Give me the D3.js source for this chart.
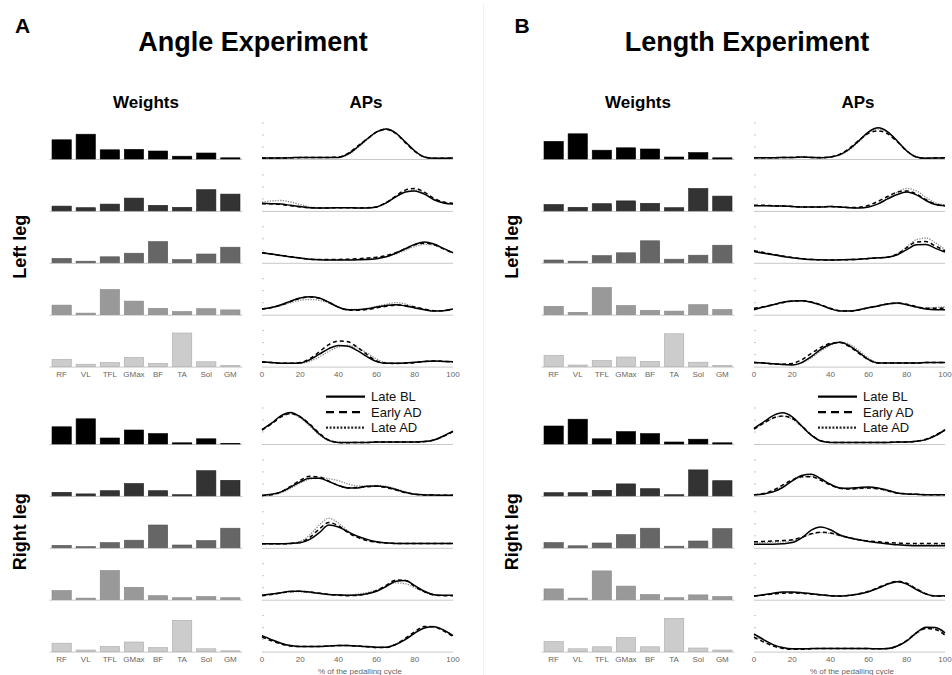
<!DOCTYPE html>
<html>
<head>
<meta charset="utf-8">
<script src="https://cdn.jsdelivr.net/npm/d3@7"></script>
<style>
  body { margin:0; background:#fff; }
  svg { font-family: Arial, "Liberation Sans", sans-serif; }
  .lbl { font-size: 8px; fill: #666; }
  .head { font-weight: bold; fill: #000; }
</style>
</head>
<body>
<script>
// ---- data ----
var muscles = ["RF", "VL", "TFL", "GMax", "BF", "TA", "Sol", "GM"];
var cycle = [0, 5, 10, 15, 20, 25, 30, 35, 40, 45, 50, 55, 60, 65, 70, 75, 80, 85, 90, 95, 100];
var cycleTicks = [0, 20, 40, 60, 80, 100];
var seriesNames = ["Late BL", "Early AD", "Late AD"];
var experiments = ["Angle Experiment", "Length Experiment"];
var panelLetters = ["A", "B"];
var legNames = ["Left leg", "Right leg"];

// weights, 5 synergies x 8 muscles
var wAngleLeft = [
  [0.48, 0.62, 0.23, 0.24, 0.20, 0.07, 0.15, 0.03],
  [0.12, 0.08, 0.17, 0.32, 0.14, 0.09, 0.53, 0.42],
  [0.11, 0.04, 0.15, 0.24, 0.53, 0.08, 0.22, 0.39],
  [0.24, 0.04, 0.63, 0.34, 0.16, 0.08, 0.15, 0.12],
  [0.18, 0.06, 0.10, 0.23, 0.08, 0.84, 0.12, 0.03]
];
var wAngleRight = [
  [0.43, 0.63, 0.15, 0.35, 0.26, 0.03, 0.13, 0.01],
  [0.09, 0.05, 0.13, 0.31, 0.13, 0.03, 0.63, 0.39],
  [0.06, 0.03, 0.13, 0.19, 0.57, 0.07, 0.18, 0.49],
  [0.23, 0.04, 0.73, 0.31, 0.10, 0.05, 0.08, 0.05],
  [0.21, 0.04, 0.13, 0.24, 0.10, 0.78, 0.07, 0.02]
];
var wLengthLeft = [
  [0.44, 0.63, 0.22, 0.28, 0.25, 0.05, 0.16, 0.03],
  [0.16, 0.09, 0.18, 0.25, 0.19, 0.08, 0.56, 0.37],
  [0.07, 0.04, 0.18, 0.25, 0.55, 0.09, 0.19, 0.44],
  [0.21, 0.06, 0.68, 0.23, 0.11, 0.09, 0.25, 0.13],
  [0.28, 0.04, 0.15, 0.24, 0.13, 0.82, 0.11, 0.03]
];
var wLengthRight = [
  [0.45, 0.62, 0.13, 0.31, 0.26, 0.05, 0.12, 0.03],
  [0.08, 0.08, 0.14, 0.30, 0.18, 0.03, 0.65, 0.38],
  [0.13, 0.05, 0.12, 0.33, 0.49, 0.04, 0.17, 0.48],
  [0.27, 0.04, 0.72, 0.34, 0.13, 0.05, 0.12, 0.08],
  [0.25, 0.07, 0.12, 0.35, 0.12, 0.83, 0.09, 0.04]
];

// activation patterns, 5 synergies x 21 points of the cycle
var apAngleLeftBL = [
  [0.025,0.025,0.025,0.03,0.04,0.04,0.04,0.04,0.04,0.125,0.3,0.5,0.68,0.75,0.65,0.43,0.2,0.05,0.02,0.02,0.025],
  [0.19,0.18,0.17,0.14,0.11,0.08,0.075,0.075,0.08,0.08,0.075,0.075,0.1,0.2,0.35,0.47,0.5,0.42,0.28,0.2,0.17],
  [0.25,0.22,0.18,0.15,0.12,0.09,0.075,0.07,0.07,0.07,0.075,0.08,0.1,0.15,0.24,0.35,0.46,0.52,0.47,0.36,0.25],
  [0.14,0.18,0.25,0.34,0.42,0.45,0.42,0.31,0.19,0.125,0.125,0.15,0.19,0.23,0.25,0.22,0.17,0.125,0.09,0.1,0.14],
  [0.12,0.1,0.085,0.085,0.09,0.17,0.31,0.45,0.53,0.51,0.4,0.25,0.125,0.085,0.085,0.09,0.11,0.13,0.14,0.13,0.12]
];
var apAngleLeftEA = [
  [0.02,0.02,0.025,0.03,0.035,0.04,0.04,0.04,0.05,0.14,0.32,0.5,0.67,0.74,0.64,0.41,0.19,0.05,0.02,0.02,0.02],
  [0.18,0.18,0.16,0.13,0.1,0.08,0.075,0.075,0.08,0.08,0.075,0.08,0.1,0.21,0.37,0.52,0.56,0.47,0.31,0.22,0.19],
  [0.25,0.22,0.18,0.15,0.12,0.09,0.08,0.08,0.085,0.09,0.1,0.12,0.14,0.18,0.25,0.35,0.45,0.49,0.45,0.35,0.24],
  [0.14,0.18,0.24,0.33,0.41,0.44,0.41,0.31,0.19,0.12,0.11,0.13,0.17,0.21,0.24,0.23,0.19,0.14,0.1,0.1,0.13],
  [0.11,0.1,0.085,0.085,0.1,0.2,0.37,0.55,0.64,0.62,0.48,0.3,0.14,0.085,0.08,0.085,0.1,0.13,0.14,0.13,0.11]
];
var apAngleLeftLA = [
  [0.03,0.03,0.03,0.035,0.04,0.04,0.04,0.04,0.04,0.11,0.28,0.48,0.67,0.76,0.66,0.43,0.21,0.06,0.02,0.02,0.03],
  [0.22,0.25,0.26,0.22,0.16,0.1,0.08,0.075,0.08,0.08,0.075,0.075,0.1,0.19,0.34,0.47,0.52,0.44,0.3,0.22,0.18],
  [0.24,0.21,0.18,0.15,0.12,0.09,0.08,0.075,0.075,0.08,0.085,0.1,0.12,0.15,0.22,0.31,0.41,0.46,0.44,0.35,0.25],
  [0.15,0.18,0.23,0.3,0.36,0.38,0.36,0.29,0.19,0.13,0.13,0.16,0.21,0.26,0.3,0.27,0.2,0.14,0.1,0.1,0.14],
  [0.12,0.1,0.085,0.085,0.085,0.13,0.24,0.38,0.49,0.53,0.47,0.34,0.19,0.1,0.085,0.09,0.11,0.13,0.14,0.13,0.12]
];
var apAngleRightBL = [
  [0.36,0.52,0.71,0.79,0.68,0.48,0.25,0.09,0.04,0.04,0.04,0.04,0.05,0.05,0.05,0.05,0.05,0.06,0.1,0.2,0.32],
  [0.01,0.04,0.1,0.22,0.35,0.44,0.44,0.36,0.26,0.2,0.2,0.24,0.25,0.22,0.16,0.09,0.04,0.025,0.02,0.015,0.015],
  [0.1,0.1,0.1,0.11,0.125,0.21,0.38,0.57,0.52,0.4,0.29,0.21,0.15,0.125,0.11,0.11,0.11,0.11,0.11,0.11,0.11],
  [0.11,0.14,0.175,0.21,0.21,0.19,0.16,0.13,0.12,0.11,0.12,0.15,0.21,0.33,0.46,0.48,0.35,0.21,0.125,0.11,0.11],
  [0.4,0.3,0.21,0.15,0.125,0.125,0.13,0.14,0.15,0.15,0.14,0.125,0.11,0.11,0.175,0.3,0.46,0.59,0.62,0.54,0.4]
];
var apAngleRightEA = [
  [0.35,0.5,0.68,0.76,0.68,0.5,0.27,0.1,0.04,0.03,0.04,0.04,0.05,0.05,0.05,0.05,0.05,0.06,0.1,0.19,0.31],
  [0.01,0.03,0.1,0.24,0.39,0.49,0.47,0.37,0.26,0.2,0.21,0.23,0.24,0.21,0.15,0.08,0.04,0.025,0.02,0.015,0.015],
  [0.1,0.1,0.1,0.11,0.14,0.26,0.47,0.63,0.55,0.38,0.26,0.18,0.14,0.12,0.11,0.11,0.11,0.11,0.11,0.11,0.11],
  [0.1,0.13,0.17,0.2,0.21,0.19,0.16,0.13,0.11,0.1,0.11,0.15,0.23,0.36,0.49,0.48,0.33,0.2,0.12,0.1,0.1],
  [0.36,0.27,0.19,0.14,0.125,0.125,0.13,0.14,0.15,0.15,0.14,0.12,0.1,0.1,0.18,0.33,0.5,0.63,0.62,0.52,0.38]
];
var apAngleRightLA = [
  [0.37,0.52,0.69,0.76,0.65,0.45,0.23,0.08,0.04,0.04,0.04,0.04,0.05,0.05,0.05,0.05,0.05,0.06,0.1,0.2,0.32],
  [0.01,0.03,0.08,0.19,0.32,0.42,0.45,0.43,0.38,0.3,0.25,0.25,0.26,0.24,0.18,0.1,0.05,0.03,0.02,0.015,0.015],
  [0.1,0.1,0.1,0.115,0.16,0.32,0.57,0.74,0.62,0.42,0.27,0.18,0.14,0.12,0.11,0.11,0.11,0.11,0.11,0.11,0.11],
  [0.11,0.14,0.17,0.2,0.2,0.18,0.15,0.13,0.12,0.12,0.14,0.18,0.24,0.33,0.42,0.4,0.3,0.19,0.12,0.11,0.11],
  [0.38,0.29,0.2,0.15,0.125,0.125,0.13,0.14,0.15,0.15,0.14,0.12,0.1,0.11,0.19,0.32,0.47,0.6,0.63,0.54,0.4]
];
var apLengthLeftBL = [
  [0.03,0.03,0.03,0.04,0.04,0.05,0.04,0.03,0.05,0.11,0.25,0.46,0.68,0.78,0.68,0.45,0.2,0.05,0.02,0.025,0.03],
  [0.13,0.13,0.125,0.12,0.11,0.1,0.1,0.1,0.11,0.1,0.08,0.075,0.1,0.175,0.3,0.41,0.47,0.4,0.26,0.16,0.13],
  [0.28,0.24,0.2,0.16,0.125,0.1,0.08,0.075,0.07,0.075,0.08,0.09,0.11,0.125,0.14,0.2,0.33,0.45,0.46,0.36,0.27],
  [0.125,0.19,0.25,0.31,0.34,0.35,0.31,0.24,0.15,0.09,0.09,0.125,0.175,0.22,0.27,0.29,0.25,0.19,0.14,0.125,0.125],
  [0.1,0.09,0.07,0.05,0.04,0.1,0.25,0.43,0.56,0.61,0.52,0.35,0.175,0.09,0.09,0.09,0.09,0.09,0.1,0.1,0.1]
];
var apLengthLeftEA = [
  [0.03,0.03,0.03,0.035,0.04,0.045,0.04,0.035,0.05,0.12,0.27,0.47,0.64,0.7,0.63,0.43,0.2,0.05,0.02,0.025,0.03],
  [0.14,0.14,0.13,0.12,0.11,0.1,0.1,0.1,0.11,0.1,0.085,0.09,0.14,0.24,0.36,0.47,0.5,0.42,0.28,0.17,0.13],
  [0.3,0.26,0.21,0.17,0.13,0.1,0.085,0.075,0.07,0.075,0.08,0.09,0.11,0.125,0.14,0.22,0.38,0.52,0.53,0.42,0.3],
  [0.16,0.2,0.25,0.3,0.34,0.35,0.32,0.25,0.16,0.1,0.09,0.12,0.17,0.22,0.27,0.29,0.26,0.2,0.16,0.16,0.17],
  [0.1,0.09,0.07,0.06,0.08,0.17,0.33,0.48,0.58,0.6,0.5,0.33,0.17,0.09,0.09,0.09,0.09,0.09,0.1,0.1,0.1]
];
var apLengthLeftLA = [
  [0.03,0.03,0.03,0.04,0.04,0.05,0.04,0.03,0.05,0.1,0.23,0.44,0.66,0.75,0.67,0.45,0.21,0.06,0.02,0.025,0.03],
  [0.13,0.13,0.125,0.12,0.11,0.1,0.1,0.1,0.11,0.1,0.08,0.075,0.1,0.18,0.32,0.47,0.56,0.5,0.34,0.2,0.15],
  [0.31,0.26,0.21,0.17,0.13,0.1,0.085,0.075,0.07,0.075,0.08,0.09,0.11,0.125,0.14,0.22,0.4,0.58,0.62,0.5,0.33],
  [0.15,0.19,0.24,0.3,0.33,0.34,0.31,0.24,0.15,0.1,0.1,0.13,0.18,0.23,0.27,0.28,0.25,0.2,0.17,0.18,0.2],
  [0.1,0.09,0.07,0.05,0.04,0.09,0.22,0.39,0.53,0.61,0.56,0.4,0.21,0.1,0.09,0.09,0.09,0.09,0.1,0.1,0.1]
];
var apLengthRightBL = [
  [0.39,0.55,0.71,0.78,0.68,0.45,0.22,0.075,0.04,0.04,0.04,0.04,0.04,0.04,0.04,0.05,0.05,0.07,0.11,0.21,0.35],
  [0.03,0.05,0.1,0.21,0.375,0.51,0.54,0.43,0.29,0.2,0.19,0.21,0.225,0.2,0.14,0.075,0.05,0.04,0.03,0.03,0.03],
  [0.09,0.09,0.09,0.1,0.13,0.25,0.44,0.52,0.45,0.32,0.25,0.2,0.16,0.125,0.1,0.075,0.06,0.05,0.05,0.05,0.05],
  [0.09,0.125,0.16,0.19,0.19,0.175,0.15,0.125,0.1,0.09,0.11,0.14,0.2,0.29,0.39,0.45,0.39,0.25,0.14,0.09,0.1],
  [0.44,0.3,0.175,0.1,0.07,0.07,0.075,0.08,0.08,0.08,0.08,0.075,0.075,0.07,0.075,0.14,0.27,0.47,0.61,0.6,0.47]
];
var apLengthRightEA = [
  [0.37,0.52,0.65,0.7,0.64,0.45,0.23,0.08,0.04,0.04,0.04,0.04,0.04,0.04,0.04,0.05,0.05,0.07,0.12,0.22,0.36],
  [0.03,0.06,0.14,0.27,0.4,0.48,0.48,0.39,0.27,0.19,0.17,0.19,0.2,0.18,0.13,0.07,0.05,0.04,0.03,0.03,0.03],
  [0.15,0.16,0.17,0.18,0.2,0.27,0.35,0.39,0.37,0.31,0.25,0.2,0.17,0.15,0.13,0.12,0.11,0.11,0.11,0.11,0.11],
  [0.09,0.12,0.14,0.16,0.17,0.16,0.14,0.12,0.1,0.09,0.11,0.15,0.21,0.3,0.4,0.46,0.41,0.27,0.15,0.09,0.1],
  [0.36,0.24,0.14,0.08,0.06,0.06,0.07,0.08,0.08,0.08,0.08,0.075,0.075,0.07,0.075,0.14,0.28,0.47,0.58,0.55,0.41]
];
var apLengthRightLA = [
  [0.38,0.52,0.64,0.69,0.62,0.43,0.21,0.075,0.04,0.04,0.04,0.04,0.04,0.04,0.04,0.05,0.05,0.07,0.1,0.2,0.34],
  [0.03,0.05,0.12,0.24,0.38,0.47,0.49,0.4,0.28,0.19,0.17,0.18,0.19,0.17,0.12,0.07,0.05,0.04,0.03,0.03,0.03],
  [0.12,0.13,0.14,0.15,0.18,0.25,0.34,0.38,0.36,0.3,0.24,0.2,0.16,0.13,0.1,0.09,0.08,0.08,0.08,0.08,0.08],
  [0.09,0.12,0.15,0.17,0.17,0.16,0.14,0.12,0.1,0.09,0.11,0.14,0.2,0.28,0.38,0.44,0.4,0.28,0.16,0.1,0.1],
  [0.4,0.27,0.16,0.09,0.065,0.065,0.075,0.08,0.08,0.08,0.08,0.075,0.075,0.07,0.075,0.13,0.26,0.44,0.58,0.57,0.44]
];

// ---- layout ----
var W = 952, H = 675;
var panelDx = [0, 492];
var letterX = [15, 514.5];
var titleX = [253, 747];
var legBase = [159, 444];
var rowStep = 51.9;
var rowColors = ["#000000", "#333333", "#666666", "#999999", "#cccccc"];
var rowStroke = ["#000000", "#222222", "#555555", "#888888", "#aaaaaa"];
var lineStyles = [
  {stroke: "#000", width: 1.5, dash: null},
  {stroke: "#000", width: 1.5, dash: "4,3"},
  {stroke: "#8a8a8a", width: 1.3, dash: "1.3,1.3"}
];

var weights = [[wAngleLeft, wAngleRight], [wLengthLeft, wLengthRight]];
var aps = [
  [[apAngleLeftBL, apAngleLeftEA, apAngleLeftLA], [apAngleRightBL, apAngleRightEA, apAngleRightLA]],
  [[apLengthLeftBL, apLengthLeftEA, apLengthLeftLA], [apLengthRightBL, apLengthRightEA, apLengthRightLA]]
];

var svg = d3.select("body").append("svg").attr("width", W).attr("height", H);

// faint separator between the two panels
svg.append("line").attr("x1", 483.5).attr("x2", 483.5).attr("y1", 4).attr("y2", H)
  .attr("stroke", "#f0f0f0").attr("stroke-width", 1);

var xBar = d3.scaleBand().domain(muscles).range([49.6, 242.4]).paddingInner(0.2).paddingOuter(0.1);
var yBar = d3.scaleLinear().domain([0, 1]).range([0, -40]);
var xAp = d3.scaleLinear().domain([0, 100]).range([262, 453]);
var yAp = d3.scaleLinear().domain([0, 1]).range([0, -40]);

var line = d3.line()
  .x(function(d) { return xAp(d[0]); })
  .y(function(d) { return yAp(d[1]); })
  .curve(d3.curveMonotoneX);

experiments.forEach(function(title, pi) {
  svg.append("text").attr("class", "head").attr("x", letterX[pi]).attr("y", 33)
    .style("font-size", "21px").text(panelLetters[pi]);
  svg.append("text").attr("class", "head").attr("x", titleX[pi]).attr("y", 51)
    .attr("text-anchor", "middle").style("font-size", "27px").text(title);

  var g = svg.append("g").attr("transform", "translate(" + panelDx[pi] + ",0)");

  g.append("text").attr("class", "head").attr("x", 146).attr("y", 108)
    .attr("text-anchor", "middle").style("font-size", "17px").text("Weights");
  g.append("text").attr("class", "head").attr("x", 366).attr("y", 108)
    .attr("text-anchor", "middle").style("font-size", "17px").text("APs");

  legNames.forEach(function(leg, li) {
    var midY = legBase[li] + rowStep * 2 - 16;
    g.append("text").attr("class", "head")
      .attr("transform", "translate(20," + midY + ") rotate(-90)")
      .attr("text-anchor", "middle").attr("dy", "0.35em")
      .style("font-size", "18px").text(leg);

    weights[pi][li].forEach(function(vals, ri) {
      var base = legBase[li] + ri * rowStep;
      var row = g.append("g").attr("transform", "translate(0," + base + ")");

      row.append("line").attr("x1", xBar.range()[0]).attr("x2", xBar.range()[1])
        .attr("y1", 0.5).attr("y2", 0.5).attr("stroke", "#c8c8c8").attr("stroke-width", 1);

      row.selectAll("rect").data(vals).enter().append("rect")
        .attr("x", function(d, i) { return xBar(muscles[i]); })
        .attr("y", function(d) { return yBar(d); })
        .attr("width", xBar.bandwidth())
        .attr("height", function(d) { return -yBar(d); })
        .attr("fill", rowColors[ri])
        .attr("stroke", rowStroke[ri]).attr("stroke-width", 0.6);

      // activation patterns
      var ap = g.append("g").attr("transform", "translate(0," + base + ")");
      ap.append("line").attr("x1", xAp(0)).attr("x2", xAp(100)).attr("y1", 0.5).attr("y2", 0.5)
        .attr("stroke", "#c8c8c8").attr("stroke-width", 1);
      ap.selectAll(".tk").data([0.3, 0.6, 0.9]).enter().append("line").attr("class", "tk")
        .attr("x1", xAp(0)).attr("x2", xAp(0) + 2)
        .attr("y1", function(d) { return yAp(d); }).attr("y2", function(d) { return yAp(d); })
        .attr("stroke", "#c8c8c8").attr("stroke-width", 1);

      [2, 1, 0].forEach(function(si) {
        var pts = cycle.map(function(c, k) { return [c, aps[pi][li][si][ri][k]]; });
        var st = lineStyles[si];
        ap.append("path").attr("d", line(pts)).attr("fill", "none")
          .attr("stroke", st.stroke).attr("stroke-width", st.width)
          .attr("stroke-dasharray", st.dash);
      });
    });

    var lastBase = legBase[li] + 4 * rowStep;
    g.selectAll(".mlbl" + li).data(muscles).enter().append("text").attr("class", "lbl mlbl" + li)
      .attr("x", function(d) { return xBar(d) + xBar.bandwidth() / 2; })
      .attr("y", lastBase + 10.5).attr("text-anchor", "middle").text(function(d) { return d; });
    g.selectAll(".clbl" + li).data(cycleTicks).enter().append("text").attr("class", "lbl clbl" + li)
      .attr("x", function(d) { return xAp(d); })
      .attr("y", lastBase + 10.5).attr("text-anchor", "middle").text(function(d) { return d; });
  });

  g.append("text").attr("class", "lbl").attr("x", 360).attr("y", 674)
    .attr("text-anchor", "middle").text("% of the pedalling cycle");

  // legend
  var lg = g.append("g");
  seriesNames.forEach(function(name, si) {
    var y = 396.7 + si * 15.5;
    lg.append("line").attr("x1", 326).attr("x2", 365).attr("y1", y).attr("y2", y)
      .attr("stroke", si === 2 ? "#222" : "#000").attr("stroke-width", 2.2)
      .attr("stroke-dasharray", si === 1 ? "8,5" : (si === 2 ? "2,1.6" : null));
    lg.append("text").attr("x", 371).attr("y", y).attr("dy", "0.35em")
      .style("font-size", "13px").attr("fill", "#111").text(name);
  });
});
</script>
</body>
</html>
